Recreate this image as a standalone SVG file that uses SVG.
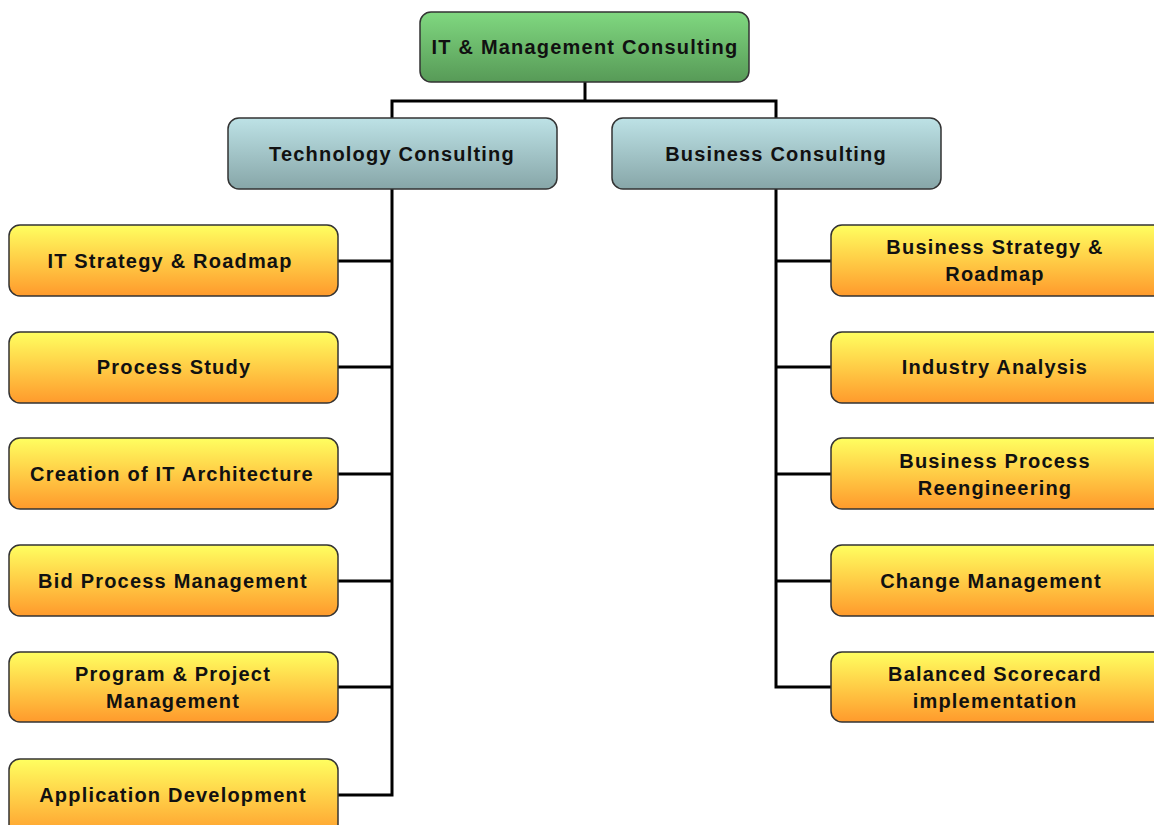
<svg xmlns="http://www.w3.org/2000/svg" width="1154" height="825" viewBox="0 0 1154 825">
<defs>
<linearGradient id="gGreen" x1="0" y1="0" x2="0" y2="1"><stop offset="0" stop-color="#80d880"/><stop offset="1" stop-color="#579a57"/></linearGradient>
<linearGradient id="gBlue" x1="0" y1="0" x2="0" y2="1"><stop offset="0" stop-color="#bde2e6"/><stop offset="1" stop-color="#87a6a8"/></linearGradient>
<linearGradient id="gYellow" x1="0" y1="0" x2="0" y2="1"><stop offset="0" stop-color="#ffff60"/><stop offset="1" stop-color="#ff9a2c"/></linearGradient>
<style>
.box{stroke:#333;stroke-width:1.5}
.g{fill:url(#gGreen)}
.b{fill:url(#gBlue)}
.y{fill:url(#gYellow)}
text{font-family:"Liberation Sans",Arial,sans-serif;font-weight:bold;font-size:20px;letter-spacing:1.2px;fill:#111;text-anchor:middle;dominant-baseline:central}
.c{fill:none;stroke:#000;stroke-width:3}
</style>
</defs>
<g id="connectors">
<polyline class="c" points="585,82 585,101"/>
<polyline class="c" points="392,118 392,101 776,101 776,118"/>
<polyline class="c" points="392,189 392,795 338,795"/>
<line class="c" x1="338" y1="261" x2="392" y2="261"/>
<line class="c" x1="338" y1="367" x2="392" y2="367"/>
<line class="c" x1="338" y1="474" x2="392" y2="474"/>
<line class="c" x1="338" y1="581" x2="392" y2="581"/>
<line class="c" x1="338" y1="687" x2="392" y2="687"/>
<polyline class="c" points="776,189 776,687 831,687"/>
<line class="c" x1="776" y1="261" x2="831" y2="261"/>
<line class="c" x1="776" y1="367" x2="831" y2="367"/>
<line class="c" x1="776" y1="474" x2="831" y2="474"/>
<line class="c" x1="776" y1="581" x2="831" y2="581"/>
</g>
<g id="root"><rect class="box g" x="420" y="12" width="329" height="70" rx="11"/><text x="585" y="47">IT &amp; Management Consulting</text></g>
<g id="tech"><rect class="box b" x="228" y="118" width="329" height="71" rx="11"/><text x="392" y="154">Technology Consulting</text></g>
<g id="business"><rect class="box b" x="612" y="118" width="329" height="71" rx="11"/><text x="776" y="154">Business Consulting</text></g>
<g id="t1"><rect class="box y" x="9" y="225" width="329" height="71" rx="11"/><text x="170" y="261">IT Strategy &amp; Roadmap</text></g>
<g id="t2"><rect class="box y" x="9" y="332" width="329" height="71" rx="11"/><text x="174" y="367">Process Study</text></g>
<g id="t3"><rect class="box y" x="9" y="438" width="329" height="71" rx="11"/><text x="172" y="474">Creation of IT Architecture</text></g>
<g id="t4"><rect class="box y" x="9" y="545" width="329" height="71" rx="11"/><text x="173" y="581">Bid Process Management</text></g>
<g id="t5"><rect class="box y" x="9" y="652" width="329" height="70" rx="11"/><text x="173" y="674">Program &amp; Project</text><text x="173" y="701">Management</text></g>
<g id="t6"><rect class="box y" x="9" y="759" width="329" height="80" rx="11"/><text x="173" y="795">Application Development</text></g>
<g id="b1"><rect class="box y" x="831" y="225" width="340" height="71" rx="11"/><text x="995" y="247">Business Strategy &amp;</text><text x="995" y="274">Roadmap</text></g>
<g id="b2"><rect class="box y" x="831" y="332" width="340" height="71" rx="11"/><text x="995" y="367">Industry Analysis</text></g>
<g id="b3"><rect class="box y" x="831" y="438" width="340" height="71" rx="11"/><text x="995" y="461">Business Process</text><text x="995" y="488">Reengineering</text></g>
<g id="b4"><rect class="box y" x="831" y="545" width="340" height="71" rx="11"/><text x="991" y="581">Change Management</text></g>
<g id="b5"><rect class="box y" x="831" y="652" width="340" height="70" rx="11"/><text x="995" y="674">Balanced Scorecard</text><text x="995" y="701">implementation</text></g>
</svg>
